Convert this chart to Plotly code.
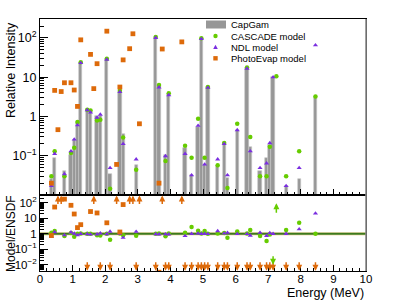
import math
import plotly.graph_objects as go
from plotly.subplots import make_subplots

# ---------------- data (bin centres in MeV, 0.1 MeV bins) ----------------
ens_E = [0.35, 0.45, 0.75, 0.95, 1.05, 1.15, 1.25, 1.45, 1.55, 1.75, 1.85, 2.05, 2.15,
         2.45, 2.55, 2.95, 3.55, 3.65, 3.85, 3.95, 4.45, 4.65, 4.85, 4.95, 5.05, 5.15,
         5.45, 5.65, 5.75, 6.05, 6.35, 6.45, 6.75, 6.95, 7.05, 7.15, 7.55, 7.95, 8.45]
ens_I = [0.026, 0.087, 0.042, 0.105, 0.25, 0.72, 23, 1.5, 1.4, 1.0, 1.05, 29, 0.035,
         4.3, 0.36, 0.059, 104, 6.0, 0.105, 3.8, 0.155, 0.032, 0.55, 94, 0.059, 5.5,
         0.054, 0.19, 0.027, 0.46, 17, 0.17, 0.042, 0.087, 0.19, 10, 0.017, 0.025, 3.2]

cas_E = [0.35, 0.45, 0.75, 0.95, 1.05, 1.15, 1.25, 1.45, 1.55, 1.75, 1.85, 2.05, 2.15,
         2.45, 2.55, 2.95, 3.55, 3.65, 3.85, 3.95, 4.45, 4.65, 4.85, 4.95, 5.05, 5.15,
         5.45, 5.65, 5.75, 6.05, 6.35, 6.45, 6.75, 6.95, 7.05, 7.25, 7.55, 7.95, 8.45]
cas_I = [0.030, 0.13, 0.030, 0.117, 0.16, 0.72, 24, 1.48, 1.41, 0.79, 0.82, 29.5, 0.0145,
         4.5, 0.29, 0.044, 105, 6.3, 0.073, 3.9, 0.18, 0.089, 0.87, 98, 0.089, 5.6,
         0.057, 0.21, 0.015, 0.65, 17.5, 0.30, 0.030, 0.030, 0.17, 10.5, 0.030, 0.13, 3.2]

ndl_E = list(ens_E)
ndl_I = [0.017, 0.112, 0.034, 0.13, 0.26, 0.60, 23, 1.45, 1.26, 0.93, 1.12, 28, 0.049,
         4.2, 0.20, 0.081, 100, 5.5, 0.098, 3.5, 0.112, 0.032, 0.58, 94, 0.06, 5.4,
         0.081, 0.20, 0.032, 0.45, 16.5, 0.13, 0.049, 0.064, 0.21, 10, 0.017, 0.049, 65]

pe_E = [0.35, 0.45, 0.55, 0.65, 0.75, 0.95, 1.05, 1.15, 1.25, 1.55, 1.65, 1.75, 2.05,
        2.35, 2.45, 2.55, 2.75, 2.85, 3.05, 3.65, 3.75, 4.35]
pe_I = [0.02, 4.6, 0.46, 4.3, 7.2, 7.2, 4.7, 1.8, 89, 38, 5.1, 22, 148,
        0.06, 5.6, 27.5, 53, 127, 0.65, 0.02, 52, 79]

x_ticks = [0, 1, 2, 3, 4, 5, 6, 7, 8, 9, 10]
y_top_vals = [0.1, 1, 10, 100]
y_top_text = ["10<sup>\u22121</sup>", "1", "10", "10<sup>2</sup>"]
y_bot_vals = [0.01, 0.1, 1, 10, 100]
y_bot_text = ["10<sup>\u22122</sup>", "10<sup>\u22121</sup>", "1", "10", "10<sup>2</sup>"]
BIN_W = 0.1
UNITY = [1.0, 1.0]
BAND_LO, BAND_HI = 0.76, 1.32

C_BAR = "#979797"
C_CAS = "#66cc00"
C_NDL = "#7a2ee0"
C_PE = "#dd6a0a"
FONT = "Liberation Sans, Arial, sans-serif"


def ratio(mE, mI):
    ens = {round(e, 2): v for e, v in zip(ens_E, ens_I)}
    mod = {round(e, 2): v for e, v in zip(mE, mI)}
    rx, ry, up, down = [], [], [], []
    for e, v in mod.items():
        if e in ens:
            rx.append(e)
            ry.append(v / ens[e])
        else:
            up.append(e)
    for e in ens:
        if e not in mod:
            down.append(e)
    return rx, ry, up, down


fig = make_subplots(rows=2, cols=1, shared_xaxes=True, vertical_spacing=0,
                    row_heights=[176 / 252, 76 / 252])

# ---- top panel ----
fig.add_trace(go.Bar(x=ens_E, y=ens_I, width=BIN_W, marker=dict(color=C_BAR,
              line=dict(color="#c4c4c4", width=0.6)), showlegend=False), 1, 1)
fig.add_trace(go.Scatter(x=cas_E, y=cas_I, mode="markers", marker=dict(symbol="circle", size=4.5, color=C_CAS),
                         showlegend=False), 1, 1)
fig.add_trace(go.Scatter(x=ndl_E, y=ndl_I, mode="markers", marker=dict(symbol="triangle-up", size=4.5, color=C_NDL),
                         showlegend=False), 1, 1)
fig.add_trace(go.Scatter(x=pe_E, y=pe_I, mode="markers", marker=dict(symbol="square", size=4.8, color=C_PE),
                         showlegend=False), 1, 1)

# ---- bottom panel ----
fig.add_trace(go.Scatter(x=[0, 10, 10, 0], y=[BAND_LO, BAND_LO, BAND_HI, BAND_HI], fill="toself",
                         fillcolor="rgba(240,214,160,0.75)", line=dict(width=0), mode="lines",
                         hoverinfo="skip", showlegend=False), 2, 1)
fig.add_trace(go.Scatter(x=[0, 10], y=UNITY, mode="lines", line=dict(color="#3d7a1c", width=2),
                         showlegend=False), 2, 1)

annots = []
for (mE, mI, col, sym, sz) in [(cas_E, cas_I, C_CAS, "circle", 4.5), (ndl_E, ndl_I, C_NDL, "triangle-up", 4.5),
                               (pe_E, pe_I, C_PE, "square", 4.8)]:
    rx, ry, up, down = ratio(mE, mI)
    fig.add_trace(go.Scatter(x=rx, y=ry, mode="markers", marker=dict(symbol=sym, size=sz, color=col),
                             showlegend=False), 2, 1)

for (mE, mI, col, ytop, aytop, ybot, aybot) in [(pe_E, pe_I, C_PE, 2.47, 10, -2.38, -10),
                                                (cas_E, cas_I, C_CAS, 1.97, 11, -2.0, -10)]:
    rx, ry, up, down = ratio(mE, mI)
    for e in up:
        annots.append(dict(x=e, y=ytop, xref="x2", yref="y2", ax=0, ay=aytop, showarrow=True, text="",
                           arrowhead=2, arrowsize=0.8, arrowwidth=1.5, arrowcolor=col))
    for e in down:
        annots.append(dict(x=e, y=ybot, xref="x2", yref="y2", ax=0, ay=aybot, showarrow=True, text="",
                           arrowhead=2, arrowsize=0.8, arrowwidth=1.5, arrowcolor=col))


def xp(px):
    return (px - 40) / 326


def yp(py):
    return (271 - py) / 252


# axis titles
annots.append(dict(text="Relative Intensity", x=0, xref="paper", xshift=-29, xanchor="center",
                   y=1, yref="paper", yshift=-1, yanchor="top", textangle=-90, showarrow=False,
                   font=dict(size=12.5, family=FONT, color="black")))
annots.append(dict(text="Model/ENSDF", x=0, xref="paper", xshift=-29, xanchor="center",
                   y=yp(234), yref="paper", yanchor="middle", textangle=-90, showarrow=False,
                   font=dict(size=12, family=FONT, color="black")))
annots.append(dict(text="Energy (MeV)", x=1, xref="paper", xanchor="right", y=0, yref="paper",
                   yshift=-22, yanchor="middle", showarrow=False,
                   font=dict(size=12.5, family=FONT, color="black")))

# legend
leg_labels = ["CapGam", "CASCADE model", "NDL model", "PhotoEvap model"]
leg_y = [24.5, 36, 47, 58.3]
for lab, yy in zip(leg_labels, leg_y):
    annots.append(dict(text=lab, x=xp(229), xref="paper", xanchor="left", y=yp(yy), yref="paper",
                       yanchor="middle", showarrow=False, font=dict(size=9.5, family=FONT, color="black")))

shapes = [
    dict(type="rect", xref="paper", yref="paper", x0=xp(206), x1=xp(226), y0=yp(28.5), y1=yp(20.5),
         fillcolor=C_BAR, line=dict(width=0)),
    dict(type="circle", xref="paper", yref="paper", x0=xp(213.3), x1=xp(217.7), y0=yp(38.2), y1=yp(33.8),
         fillcolor=C_CAS, line=dict(width=0)),
    dict(type="path", xref="paper", yref="paper",
         path="M %f %f L %f %f L %f %f Z" % (xp(213.2), yp(49.0), xp(217.8), yp(49.0), xp(215.5), yp(44.8)),
         fillcolor=C_NDL, line=dict(width=0)),
    dict(type="rect", xref="paper", yref="paper", x0=xp(213.3), x1=xp(217.7), y0=yp(60.5), y1=yp(56.1),
         fillcolor=C_PE, line=dict(width=0)),
    dict(type="line", xref="paper", yref="paper", x0=1, x1=1, y0=0, y1=1, line=dict(color="#8a8a8a", width=1.6)),
]

axis_common = dict(showline=True, linecolor="black", linewidth=1, mirror=True, showgrid=False,
                   zeroline=False, ticks="inside", tickcolor="black")

fig.update_xaxes(range=[0, 10], tickmode="array", tickvals=x_ticks, ticklen=6,
                 minor=dict(ticks="inside", ticklen=3, dtick=0.2, tick0=0, tickcolor="black", showgrid=False),
                 **axis_common)
fig.update_xaxes(showticklabels=False, row=1, col=1)
fig.update_xaxes(showticklabels=True, tickfont=dict(size=11.5, family=FONT, color="black"),
                 ticklabelstandoff=-3, row=2, col=1)

fig.update_yaxes(type="log", range=[-2, 2.48], tickmode="array", tickvals=y_top_vals, ticktext=y_top_text,
                 ticklen=8, tickfont=dict(size=12.5, family=FONT, color="black"),
                 minor=dict(ticks="inside", ticklen=4, dtick="D1", tickcolor="black", showgrid=False),
                 row=1, col=1, **axis_common)
fig.update_yaxes(type="log", range=[-2.4, 2.5], tickmode="array", tickvals=y_bot_vals, ticktext=y_bot_text,
                 ticklen=8, tickfont=dict(size=11.5, family=FONT, color="black"),
                 minor=dict(ticks="inside", ticklen=4, dtick="D1", tickcolor="black", showgrid=False),
                 row=2, col=1, **axis_common)

fig.update_layout(width=407, height=305, margin=dict(l=40, r=41, t=19, b=34, pad=0, autoexpand=False),
                  paper_bgcolor="white", plot_bgcolor="white", bargap=0,
                  font=dict(family=FONT, color="black"), showlegend=False,
                  annotations=annots, shapes=shapes)

fig.write_html("out.html", config={"displayModeBar": False},
               post_script="document.body.style.margin='0';document.body.style.padding='0';"
                           "document.documentElement.style.overflow='hidden';")
